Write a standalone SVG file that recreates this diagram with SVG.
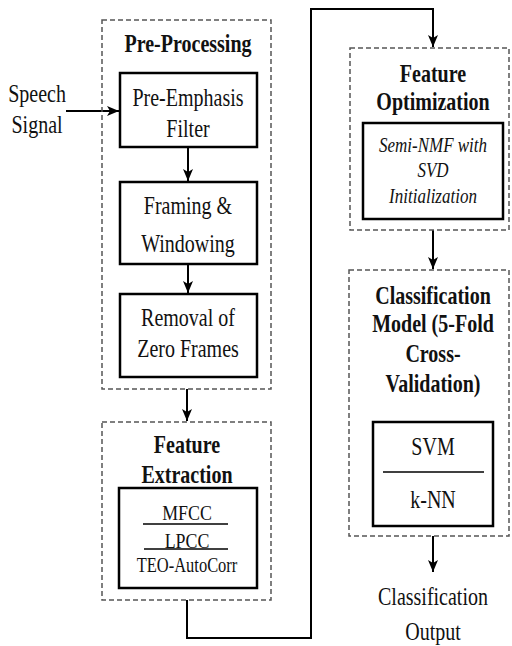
<svg xmlns="http://www.w3.org/2000/svg" width="512" height="646" viewBox="0 0 512 646">
<defs>
<marker id="ah" markerUnits="userSpaceOnUse" markerWidth="12" markerHeight="12" viewBox="0 0 12 12" refX="12" refY="6" orient="auto">
<path d="M0,1 L12,6 L0,11 L3,6 Z" fill="#000"/>
</marker>
<style>
.t{font-family:"Liberation Serif","Times New Roman",serif;font-size:20px;fill:#111;text-anchor:middle}
.b{font-weight:bold}
.i{font-style:italic;font-size:17px}
.s{font-size:17px}
.grp{fill:none;stroke:#555;stroke-width:1.5;stroke-dasharray:5,3}
.box{fill:#fff;stroke:#000;stroke-width:2.5}
.c{fill:none;stroke:#000;stroke-width:2}
.a{fill:none;stroke:#000;stroke-width:2;marker-end:url(#ah)}
.sep{stroke:#000;stroke-width:1.5}
</style>
</defs>
<rect width="512" height="646" fill="#fff"/>

<g id="connectors">
<line class="a" x1="66" y1="111" x2="119" y2="111"/>
<line class="a" x1="188" y1="147" x2="188" y2="181"/>
<line class="a" x1="188" y1="264" x2="188" y2="293"/>
<line class="a" x1="187" y1="389" x2="187" y2="421"/>
<path class="a" d="M187,600 V638 H311 V9 H433 V47"/>
<line class="a" x1="433" y1="230" x2="433" y2="269"/>
<line class="a" x1="433" y1="536" x2="433" y2="572"/>
</g>

<g id="speech-signal">
<text class="t" transform="translate(37,102) scale(1,1.28)">Speech</text>
<text class="t" transform="translate(37,133) scale(1,1.28)">Signal</text>
</g>

<g id="pre-processing">
<rect class="grp" x="102" y="20" width="169" height="369"/>
<text class="t b" transform="translate(188,52) scale(1,1.28)">Pre-Processing</text>
</g>

<g id="pre-emphasis">
<rect class="box" x="120" y="73" width="137" height="74"/>
<text class="t" transform="translate(188,106) scale(1,1.28)">Pre-Emphasis</text>
<text class="t" transform="translate(188,137) scale(1,1.28)">Filter</text>
</g>

<g id="framing">
<rect class="box" x="120" y="182" width="137" height="82"/>
<text class="t" transform="translate(188,214) scale(1,1.28)">Framing &amp;</text>
<text class="t" transform="translate(188,252) scale(1,1.28)">Windowing</text>
</g>

<g id="removal">
<rect class="box" x="120" y="294" width="137" height="83"/>
<text class="t" transform="translate(188,326) scale(1,1.28)">Removal of</text>
<text class="t" transform="translate(188,357) scale(1,1.28)">Zero Frames</text>
</g>

<g id="feature-extraction">
<rect class="grp" x="102" y="422" width="169" height="178"/>
<text class="t b" transform="translate(187,453) scale(1,1.28)">Feature</text>
<text class="t b" transform="translate(187,483) scale(1,1.28)">Extraction</text>
<rect class="box" x="119" y="488" width="138" height="100"/>
<text class="t s" transform="translate(187,520) scale(1.05,1.2)">MFCC</text>
<line class="sep" x1="143" y1="524" x2="228" y2="524"/>
<text class="t s" transform="translate(187,548) scale(1.05,1.2)">LPCC</text>
<line class="sep" x1="144" y1="549" x2="228" y2="549"/>
<text class="t s" transform="translate(187,572) scale(0.97,1.2)">TEO-AutoCorr</text>
</g>

<g id="feature-optimization">
<rect class="grp" x="350" y="48" width="159" height="182"/>
<text class="t b" transform="translate(433,82) scale(1,1.28)">Feature</text>
<text class="t b" transform="translate(433,110) scale(1,1.28)">Optimization</text>
<rect class="box" x="363" y="123" width="140" height="96"/>
<text class="t i" transform="translate(433,152) scale(1,1.2)">Semi-NMF with</text>
<text class="t i" transform="translate(433,177) scale(1,1.2)">SVD</text>
<text class="t i" transform="translate(433,203) scale(1,1.2)">Initialization</text>
</g>

<g id="classification-model">
<rect class="grp" x="349" y="270" width="160" height="266"/>
<text class="t b" transform="translate(433,304) scale(1,1.28)">Classification</text>
<text class="t b" transform="translate(433,332) scale(1,1.28)">Model (5-Fold</text>
<text class="t b" transform="translate(433,362) scale(1,1.28)">Cross-</text>
<text class="t b" transform="translate(433,392) scale(1,1.28)">Validation)</text>
<rect class="box" x="373" y="422" width="120" height="104"/>
<text class="t" transform="translate(433,455) scale(1,1.28)">SVM</text>
<line class="sep" x1="383" y1="472" x2="484" y2="472"/>
<text class="t" transform="translate(433,508) scale(1,1.28)">k-NN</text>
</g>

<g id="output">
<text class="t" transform="translate(433,605) scale(1,1.28)">Classification</text>
<text class="t" transform="translate(433,640) scale(1,1.28)">Output</text>
</g>
</svg>
